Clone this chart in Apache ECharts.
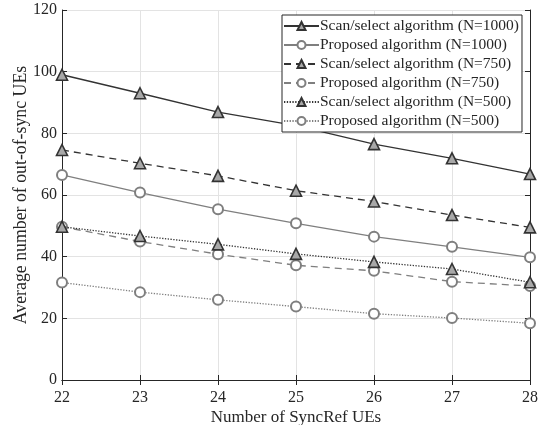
<!DOCTYPE html>
<html>
<head>
<meta charset="utf-8">
<script src="https://cdn.jsdelivr.net/npm/echarts@6/dist/echarts.min.js"></script>
<style>
  html, body { margin: 0; padding: 0; background: #fff; }
  #main { width: 544px; height: 425px; }
</style>
</head>
<body>
<div id="main"></div>
<script>
// x values: number of SyncRef UEs
var syncRefs = [22, 23, 24, 25, 26, 27, 28];

// average number of out-of-sync UEs
var scan1000 = [99, 93, 86.9, 82.5, 76.5, 71.9, 66.8];
var prop1000 = [66.5, 60.8, 55.4, 50.8, 46.5, 43.2, 39.8];
var scan750 = [74.6, 70.3, 66.2, 61.4, 57.9, 53.5, 49.5];
var prop750 = [49.7, 44.9, 40.8, 37.2, 35.4, 31.9, 30.5];
var scan500 = [49.7, 46.7, 44.0, 40.9, 38.3, 36.0, 31.7];
var prop500 = [31.6, 28.5, 26.0, 23.8, 21.5, 20.1, 18.4];

var names = [
  'Scan/select algorithm (N=1000)',
  'Proposed algorithm (N=1000)',
  'Scan/select algorithm (N=750)',
  'Proposed algorithm (N=750)',
  'Scan/select algorithm (N=500)',
  'Proposed algorithm (N=500)'
];

var font = '"Liberation Serif", "Times New Roman", serif';
var dark = '#333333';
var gray = '#7f7f7f';
var ink = '#262626';

function pairs(vals) {
  return syncRefs.map(function (x, i) { return [x, vals[i]]; });
}

function makeSeries(name, vals, isScan, dash) {
  return {
    name: name,
    type: 'line',
    data: pairs(vals),
    xAxisIndex: 0,
    yAxisIndex: 0,
    symbol: isScan ? 'triangle' : 'emptyCircle',
    symbolSize: isScan ? 11 : 10,
    showAllSymbol: true,
    lineStyle: { color: isScan ? dark : gray, width: 1.3, type: dash },
    itemStyle: isScan
      ? { color: '#a8a8a8', borderColor: dark, borderWidth: 1.6 }
      : { color: gray, borderColor: gray, borderWidth: 1.5 },
    emphasis: { disabled: true },
    z: isScan ? 3 : 2
  };
}

var chartDom = document.getElementById('main');
var myChart = echarts.init(chartDom);

var axisLine = { show: true, lineStyle: { color: ink, width: 1 } };
var option = {
  backgroundColor: '#fff',
  animation: false,
  textStyle: { fontFamily: font },
  grid: { left: 62, right: 14, top: 10, bottom: 45, outerBoundsMode: 'none', containLabel: false },
  legend: {
    orient: 'vertical',
    left: 282,
    top: 15,
    data: names,
    itemWidth: 35,
    itemHeight: 10,
    itemGap: 3,
    padding: [3, 3, 3, 1],
    backgroundColor: '#fff',
    borderColor: ink,
    borderWidth: 1,
    borderRadius: 0,
    textStyle: { fontFamily: font, fontSize: 15.5, color: ink, padding: [0, 0, 0, -4] }
  },
  xAxis: [
    {
      type: 'value', min: 22, max: 28, interval: 1,
      name: 'Number of SyncRef UEs', nameLocation: 'middle', nameGap: 29,
      nameMoveOverlap: false,
      nameTextStyle: { fontFamily: font, fontSize: 17, color: ink },
      axisLine: axisLine,
      axisTick: { inside: true, length: 5, lineStyle: { color: ink } },
      axisLabel: { fontFamily: font, fontSize: 16, color: ink, margin: 10 },
      splitLine: { show: true, lineStyle: { color: '#e3e3e3', width: 1 } }
    },
    {
      type: 'value', position: 'top', min: 22, max: 28, interval: 1,
      axisLine: axisLine,
      axisTick: { inside: true, length: 5, lineStyle: { color: ink } },
      axisLabel: { show: false },
      splitLine: { show: false }
    }
  ],
  yAxis: [
    {
      type: 'value', min: 0, max: 120, interval: 20,
      name: 'Average number of out-of-sync UEs', nameLocation: 'middle', nameGap: 32,
      nameMoveOverlap: false,
      nameTextStyle: { fontFamily: font, fontSize: 17.8, color: ink },
      axisLine: axisLine,
      axisTick: { show: true, inside: true, length: 5, lineStyle: { color: ink } },
      axisLabel: { fontFamily: font, fontSize: 16, color: ink, margin: 5 },
      splitLine: { show: true, lineStyle: { color: '#e3e3e3', width: 1 } }
    },
    {
      type: 'value', position: 'right', min: 0, max: 120, interval: 20,
      axisLine: axisLine,
      axisTick: { show: true, inside: true, length: 5, lineStyle: { color: ink } },
      axisLabel: { show: false },
      splitLine: { show: false }
    }
  ],
  series: [
    makeSeries(names[0], scan1000, true, 'solid'),
    makeSeries(names[1], prop1000, false, 'solid'),
    makeSeries(names[2], scan750, true, [7, 5]),
    makeSeries(names[3], prop750, false, [7, 5]),
    makeSeries(names[4], scan500, true, [1.3, 1.5]),
    makeSeries(names[5], prop500, false, [1.3, 1.5])
  ]
};

option && myChart.setOption(option);
</script>
</body>
</html>
